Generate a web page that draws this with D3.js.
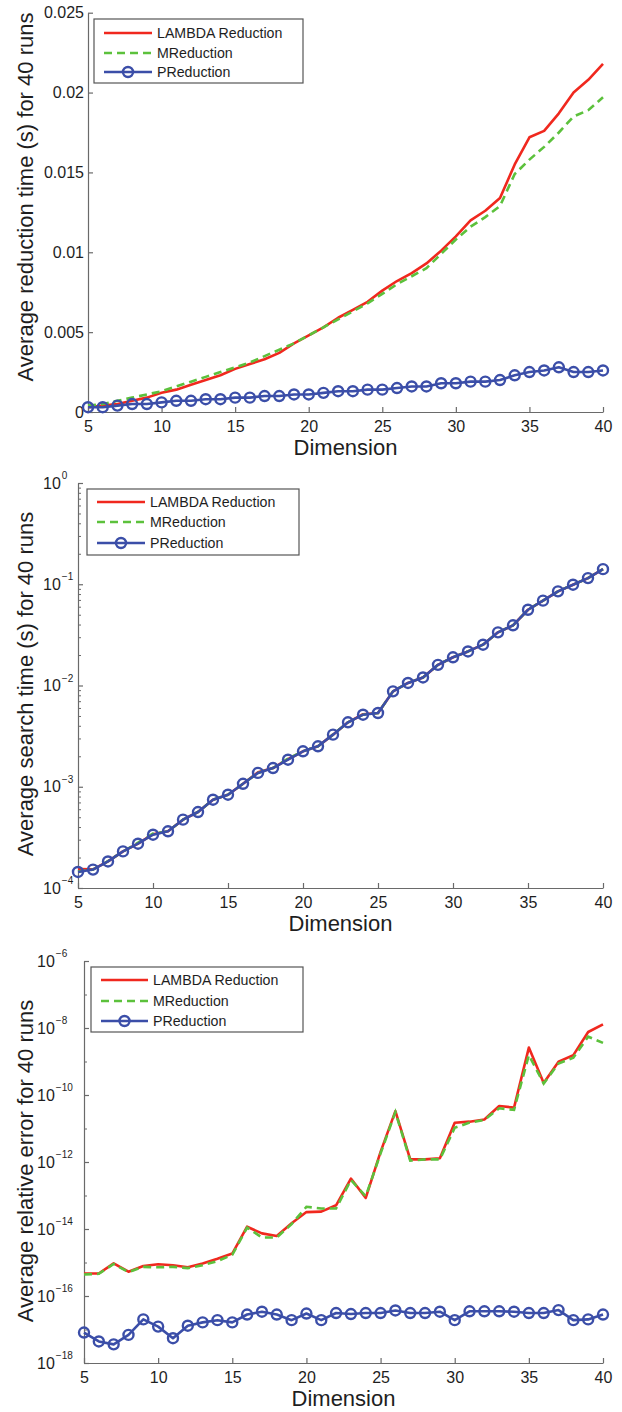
<!DOCTYPE html>
<html><head><meta charset="utf-8">
<script src="https://cdn.jsdelivr.net/npm/d3@7"></script>
<style>
html,body{margin:0;padding:0;background:#fff;}
svg{display:block;font-family:"Liberation Sans",Arial,Helvetica,sans-serif;}
</style></head>
<body>
<svg id="c" width="622" height="1412"></svg>
<script>
// ---------- data ----------
const dims = [5,6,7,8,9,10,11,12,13,14,15,16,17,18,19,20,21,22,23,24,25,26,27,28,29,30,31,32,33,34,35,36,37,38,39,40];
const seriesNames = ["LAMBDA Reduction","MReduction","PReduction"];
const xTickValues = [5,10,15,20,25,30,35,40];

// Panel 1: average reduction time (s)
const redLambda = [0.0003,0.0004,0.0005,0.0007,0.0009,0.0012,0.0014,0.0017,0.0020,0.0023,0.0027,0.0030,0.0033,0.0037,0.0043,0.0048,0.0053,0.0059,0.0064,0.0069,0.0076,0.0082,0.0087,0.0093,0.0101,0.0110,0.0120,0.0126,0.0134,0.0155,0.0172,0.0176,0.0187,0.0200,0.0208,0.0218];
const redM = [0.0004,0.0005,0.0007,0.0009,0.0011,0.0013,0.0016,0.0019,0.0022,0.0025,0.0028,0.0031,0.0035,0.0039,0.0043,0.0048,0.0053,0.0058,0.0063,0.0068,0.0074,0.0080,0.0085,0.0090,0.0099,0.0108,0.0116,0.0122,0.0129,0.0149,0.0158,0.0166,0.0175,0.0185,0.0189,0.0197];
const redP = [0.0003,0.0003,0.0004,0.0005,0.0005,0.0006,0.0007,0.0007,0.0008,0.0008,0.0009,0.0009,0.0010,0.0010,0.0011,0.0011,0.0012,0.0013,0.0013,0.0014,0.0014,0.0015,0.0016,0.0016,0.0018,0.0018,0.0019,0.0019,0.0020,0.0023,0.0025,0.0026,0.0028,0.0025,0.0025,0.0026];
const redTicks = [0,0.005,0.01,0.015,0.02,0.025];
const redTickLabels = ["0","0.005","0.01","0.015","0.02","0.025"];

// Panel 2: average search time (s)
const srchLambda = [1.54e-4,1.53e-4,1.83e-4,2.3e-4,2.74e-4,3.40e-4,3.63e-4,4.73e-4,5.63e-4,7.45e-4,8.35e-4,1.07e-3,1.39e-3,1.53e-3,1.87e-3,2.24e-3,2.51e-3,3.27e-3,4.33e-3,5.2e-3,5.35e-3,8.75e-3,1.06e-2,1.2e-2,1.6e-2,1.9e-2,2.17e-2,2.53e-2,3.35e-2,3.93e-2,5.6e-2,6.89e-2,8.51e-2,9.9e-2,1.15e-1,1.41e-1];
const srchM = [1.45e-4,1.52e-4,1.84e-4,2.3e-4,2.8e-4,3.45e-4,3.63e-4,4.73e-4,5.63e-4,7.45e-4,8.35e-4,1.07e-3,1.37e-3,1.53e-3,1.9e-3,2.24e-3,2.51e-3,3.27e-3,4.33e-3,5.15e-3,5.35e-3,8.75e-3,1.06e-2,1.2e-2,1.6e-2,1.9e-2,2.17e-2,2.53e-2,3.35e-2,3.93e-2,5.6e-2,6.89e-2,8.51e-2,9.9e-2,1.15e-1,1.41e-1];
const srchP = [1.44e-4,1.52e-4,1.83e-4,2.3e-4,2.74e-4,3.36e-4,3.63e-4,4.73e-4,5.63e-4,7.45e-4,8.35e-4,1.07e-3,1.37e-3,1.53e-3,1.85e-3,2.24e-3,2.51e-3,3.27e-3,4.33e-3,5.15e-3,5.35e-3,8.75e-3,1.06e-2,1.2e-2,1.6e-2,1.9e-2,2.17e-2,2.53e-2,3.35e-2,3.93e-2,5.6e-2,6.89e-2,8.51e-2,9.9e-2,1.15e-1,1.41e-1];
const srchTicks = [1e-4,1e-3,1e-2,1e-1,1];
const srchTickExp = ["\u22124","\u22123","\u22122","\u22121","0"];

// Panel 3: average relative error
const errLambda = [4.7e-16,4.7e-16,9.4e-16,5.3e-16,7.9e-16,8.9e-16,8.3e-16,7.2e-16,9.4e-16,1.3e-15,1.85e-15,1.17e-14,7.4e-15,6.2e-15,1.48e-14,3.2e-14,3.3e-14,5.1e-14,3.2e-13,8.5e-14,2e-12,3.3e-11,1.2e-12,1.2e-12,1.3e-12,1.48e-11,1.6e-11,1.85e-11,4.7e-11,4.2e-11,2.6e-9,2.3e-10,9.8e-10,1.55e-9,7.6e-9,1.29e-8];
const errM = [4.4e-16,4.6e-16,9.0e-16,5.2e-16,7.4e-16,7.2e-16,7.4e-16,6.8e-16,8.3e-16,1.1e-15,1.7e-15,1.1e-14,5.6e-15,5.6e-15,1.4e-14,4.6e-14,4.1e-14,4.1e-14,2.9e-13,9.5e-14,1.8e-12,3.1e-11,1.1e-12,1.2e-12,1.2e-12,1.05e-11,1.5e-11,1.8e-11,4.0e-11,3.6e-11,1.55e-9,2.2e-10,8.7e-10,1.3e-9,5.5e-9,3.6e-9];
const errP = [8.1e-18,4.4e-18,3.6e-18,6.9e-18,2.0e-17,1.22e-17,5.5e-18,1.3e-17,1.63e-17,1.9e-17,1.63e-17,2.8e-17,3.4e-17,2.8e-17,1.9e-17,3.0e-17,1.9e-17,3.1e-17,2.9e-17,3.1e-17,3.1e-17,3.7e-17,3.1e-17,3.1e-17,3.4e-17,1.9e-17,3.5e-17,3.5e-17,3.5e-17,3.4e-17,3.1e-17,3.1e-17,3.8e-17,1.9e-17,2.0e-17,2.8e-17];
const errTicks = [1e-18,1e-16,1e-14,1e-12,1e-10,1e-8,1e-6];
const errTickExp = ["\u221218","\u221216","\u221214","\u221212","\u221210","\u22128","\u22126"];
const errMinor = [1e-17,1e-15,1e-13,1e-11,1e-9,1e-7];

// ---------- style ----------
const COL = {red:"#f0281e", green:"#5cc13c", blue:"#3b4ea8", axis:"#6a6a6a", text:"#1e1e1e"};
const svg = d3.select("#c");

function panel(cfg){
  const g = svg.append("g");
  const x = d3.scaleLinear().domain([5,40]).range([cfg.left, 603]);
  const y = cfg.log ? d3.scaleLog().domain(cfg.ydom).range([cfg.bottom, cfg.top])
                    : d3.scaleLinear().domain(cfg.ydom).range([cfg.bottom, cfg.top]);

  // x axis
  const xa = g.append("g").attr("transform",`translate(0,${cfg.bottom})`)
    .call(d3.axisBottom(x).tickValues(xTickValues).tickFormat(d3.format("d"))
      .tickSizeInner(-5).tickSizeOuter(0).tickPadding(9));
  xa.select(".domain").attr("stroke",COL.axis).attr("stroke-width",1.2);
  xa.selectAll(".tick line").attr("stroke",COL.axis).attr("stroke-width",1.2);
  xa.selectAll("text").attr("font-size",16).attr("fill",COL.text).attr("font-family",null);

  // y axis
  if(cfg.log){
    if(cfg.minor){
      const ma = g.append("g").attr("transform",`translate(${cfg.left},0)`)
        .call(d3.axisLeft(y).tickValues(cfg.minor).tickFormat(()=>"").tickSizeInner(-3).tickSizeOuter(0));
      ma.select(".domain").remove();
      ma.selectAll(".tick line").attr("stroke",COL.axis).attr("stroke-width",1);
    }
    const ya = g.append("g").attr("transform",`translate(${cfg.left},0)`)
      .call(d3.axisLeft(y).tickValues(cfg.yticks).tickFormat(()=>"")
        .tickSizeInner(-5).tickSizeOuter(0));
    ya.select(".domain").attr("stroke",COL.axis).attr("stroke-width",1.2);
    ya.selectAll(".tick line").attr("stroke",COL.axis).attr("stroke-width",1.2);
    ya.selectAll(".tick text").each(function(d,i){
      const t = d3.select(this).attr("text-anchor","start").attr("x",cfg.labX).attr("dy","0.32em")
        .attr("fill",COL.text).attr("font-size",16).attr("font-family",null);
      t.append("tspan").text("10");
      t.append("tspan").attr("font-size",10).attr("dy","-0.95em").attr("dx","1").text(cfg.exps[i]);
    });
  } else {
    const ya = g.append("g").attr("transform",`translate(${cfg.left},0)`)
      .call(d3.axisLeft(y).tickValues(cfg.yticks).tickFormat((d,i)=>cfg.ylabels[i])
        .tickSizeInner(-5).tickSizeOuter(0).tickPadding(4));
    ya.select(".domain").attr("stroke",COL.axis).attr("stroke-width",1.2);
    ya.selectAll(".tick line").attr("stroke",COL.axis).attr("stroke-width",1.2);
    ya.selectAll("text").attr("font-size",16).attr("fill",COL.text).attr("font-family",null);
  }

  // axis labels
  g.append("text").attr("x",(cfg.left+603)/2).attr("y",cfg.bottom+43)
    .attr("text-anchor","middle").attr("font-size",22).attr("fill",COL.text).text("Dimension");
  g.append("text").attr("transform",`translate(33,${cfg.ycenter}) rotate(-90)`)
    .attr("text-anchor","middle").attr("font-size",22).attr("fill",COL.text).text(cfg.ytitle);

  // lines
  const line = d3.line().x((d,i)=>x(dims[i])).y(d=>y(d));
  const plot = g.append("g");
  plot.append("path").datum(cfg.s[0]).attr("d",line).attr("fill","none")
    .attr("stroke",COL.red).attr("stroke-width",2.6).attr("stroke-linejoin","round");
  plot.append("path").datum(cfg.s[1]).attr("d",line).attr("fill","none")
    .attr("stroke",COL.green).attr("stroke-width",2.6).attr("stroke-dasharray","8,5");
  plot.append("path").datum(cfg.s[2]).attr("d",line).attr("fill","none")
    .attr("stroke",COL.blue).attr("stroke-width",2.6).attr("stroke-linejoin","round");
  plot.selectAll("circle.m").data(cfg.s[2]).join("circle").attr("class","m")
    .attr("cx",(d,i)=>x(dims[i])).attr("cy",d=>y(d)).attr("r",5)
    .attr("fill","none").attr("stroke",COL.blue).attr("stroke-width",2.4);

  // legend
  const L = cfg.legend;
  const lg = g.append("g");
  lg.append("rect").attr("x",L.x0).attr("y",L.y0).attr("width",L.x1-L.x0).attr("height",L.y1-L.y0)
    .attr("fill","#fff").attr("stroke","#555").attr("stroke-width",1.2);
  const cols = [COL.red,COL.green,COL.blue];
  seriesNames.forEach((n,i)=>{
    const yy = L.rows[i];
    const ln = lg.append("line").attr("x1",L.lx0).attr("x2",L.lx1).attr("y1",yy).attr("y2",yy)
      .attr("stroke",cols[i]).attr("stroke-width",2.6);
    if(i===1) ln.attr("stroke-dasharray","8,5");
    if(i===2) lg.append("circle").attr("cx",(L.lx0+L.lx1)/2).attr("cy",yy).attr("r",5)
      .attr("fill","none").attr("stroke",cols[i]).attr("stroke-width",2.4);
    lg.append("text").attr("x",L.tx).attr("y",yy).attr("dy","0.35em")
      .attr("font-size",14.2).attr("fill",COL.text).text(n);
  });
}

panel({left:88, top:12.7, bottom:412, log:false, ydom:[0,0.025],
  yticks:redTicks, ylabels:redTickLabels, ycenter:197,
  ytitle:"Average reduction time (s) for 40 runs",
  s:[redLambda,redM,redP],
  legend:{x0:94,y0:19,x1:303,y1:83,rows:[33,53,72],lx0:104,lx1:152,tx:157}});

panel({left:78, top:483, bottom:888, log:true, ydom:[1e-4,1],
  yticks:srchTicks, exps:srchTickExp, labX:-35, ycenter:684,
  minor:[2e-4,3e-4,4e-4,5e-4,6e-4,7e-4,8e-4,9e-4,2e-3,3e-3,4e-3,5e-3,6e-3,7e-3,8e-3,9e-3,2e-2,3e-2,4e-2,5e-2,6e-2,7e-2,8e-2,9e-2,2e-1,3e-1,4e-1,5e-1,6e-1,7e-1,8e-1,9e-1],
  ytitle:"Average search time (s) for 40 runs",
  s:[srchLambda,srchM,srchP],
  legend:{x0:87,y0:489,x1:299,y1:555,rows:[502,522,543],lx0:97,lx1:145,tx:150}});

panel({left:84, top:961, bottom:1363, log:true, ydom:[1e-18,1e-6],
  yticks:errTicks, exps:errTickExp, labX:-47, ycenter:1161, minor:errMinor,
  ytitle:"Average relative error for 40 runs",
  s:[errLambda,errM,errP],
  legend:{x0:91,y0:967,x1:303,y1:1032,rows:[980,1001,1021],lx0:101,lx1:148,tx:153}});
</script>
</body></html>
